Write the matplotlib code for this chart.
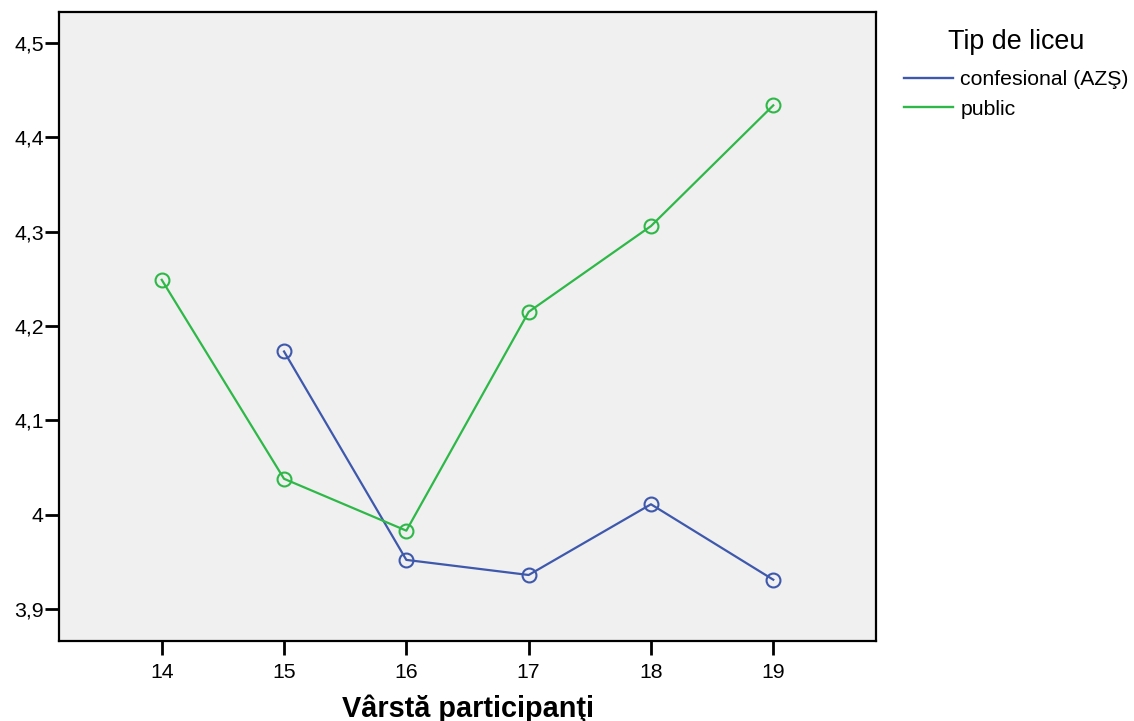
import matplotlib
matplotlib.use("Agg")
import matplotlib.pyplot as plt
from matplotlib.ticker import FuncFormatter
from matplotlib.lines import Line2D

plt.rcParams['font.family'] = ['Liberation Sans', 'DejaVu Sans']

ages_conf = [15, 16, 17, 18, 19]
vals_conf = [4.173, 3.952, 3.936, 4.011, 3.931]
ages_pub = [14, 15, 16, 17, 18, 19]
vals_pub = [4.249, 4.038, 3.983, 4.215, 4.306, 4.434]
labels = ["confesional (AZŞ)", "public"]
colors = ["#3E58AC", "#2EB848"]
yticks = [3.9, 4.0, 4.1, 4.2, 4.3, 4.4, 4.5]
xticks = [14, 15, 16, 17, 18, 19]

fig = plt.figure(figsize=(11.34, 7.21), dpi=100)
ax = fig.add_axes([59/1134, 1-641/721, (876-59)/1134, (641-12)/721])
ax.set_facecolor("#F0F0F0")

for xs, ys, lab, c in [(ages_conf, vals_conf, labels[0], colors[0]),
                       (ages_pub, vals_pub, labels[1], colors[1])]:
    ax.plot(xs, ys, color=c, lw=1.6, label=lab, marker='o', markersize=10,
            markerfacecolor='none', markeredgecolor=c, markeredgewidth=1.5)

ax.set_xlim(13.16, 19.84)
ax.set_ylim(3.866, 4.533)
ax.set_xticks(xticks)
ax.set_yticks(yticks)

def fmt(v, pos):
    s = ("%.1f" % v)
    if s.endswith(".0"):
        s = s[:-2]
    return s.replace(".", ",")
ax.yaxis.set_major_formatter(FuncFormatter(fmt))
ax.tick_params(axis='both', direction='out', length=10, width=2, labelsize=15.3, color='black')
ax.tick_params(axis='y', pad=1)
ax.tick_params(axis='x', pad=6)
for sp in ax.spines.values():
    sp.set_linewidth(1.6)

ax.set_xlabel("Vârstă participanţi", fontsize=20.8, fontweight='bold', labelpad=9)

lh = [Line2D([0], [0], color=c, lw=1.7) for c in colors]
leg = fig.legend(lh, labels, title="Tip de liceu", loc='upper left',
                 bbox_to_anchor=(904/1134, 1-29/721), frameon=False,
                 fontsize=15.3, title_fontsize=19.4, handlelength=2.3,
                 handletextpad=0.35, labelspacing=0.5, borderaxespad=0, borderpad=0)
leg._legend_box.sep = 11

fig.savefig("out.png", dpi=100)
